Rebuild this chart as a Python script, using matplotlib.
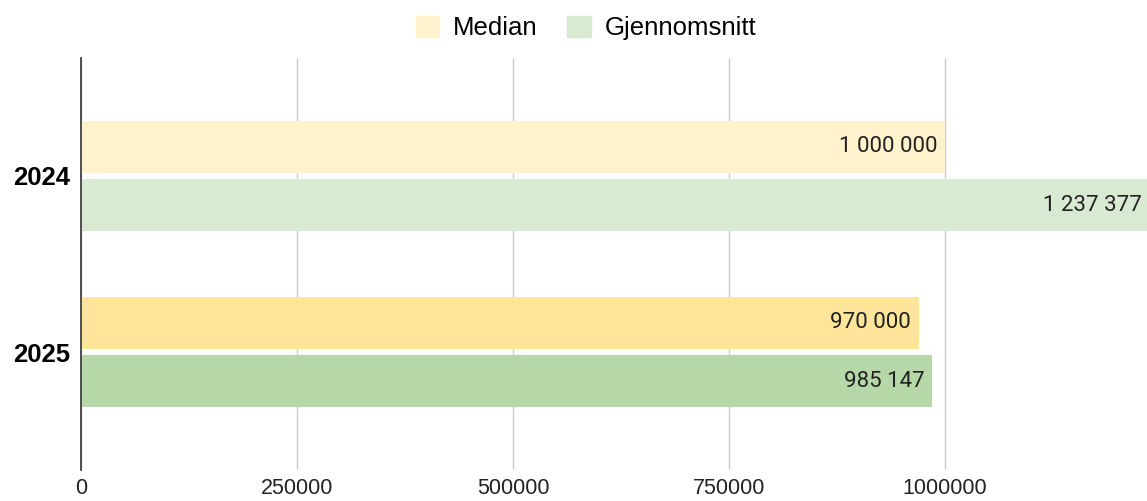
import matplotlib.pyplot as plt
from matplotlib.patches import Patch
import numpy as np

plt.rcParams['font.family'] = ['Roboto', 'DejaVu Sans']

years = ['2024', '2025']
series = ['Median', 'Gjennomsnitt']
median = [1000000, 970000]
snitt = [1237377, 985147]
xticks = [0, 250000, 500000, 750000, 1000000]

# lighter shade for 2024, stronger for 2025
median_colors = ['#FFF2CC', '#FFE599']
snitt_colors = ['#D9EAD3', '#B6D7A8']


def fmt(v):
    return f"{v:,}".replace(',', ' ')


fig = plt.figure(figsize=(11.47, 5.01), dpi=100)
ax = fig.add_axes([81 / 1147, 31 / 501, 1069 / 1147, 412 / 501])

y = np.arange(len(years))
h = 0.30
off = 0.165
bars_m = ax.barh(y - off, median, height=h, color=median_colors, zorder=3)
bars_s = ax.barh(y + off, snitt, height=h, color=snitt_colors, zorder=3)

for bars, vals in [(bars_m, median), (bars_s, snitt)]:
    for b, v in zip(bars, vals):
        ax.text(v - 9000, b.get_y() + b.get_height() / 2, fmt(v),
                ha='right', va='center', fontsize=16, color='#222222', zorder=4)

ax.set_ylim(len(years) - 1 + 0.67, -0.67)
ax.set_xlim(0, max(snitt))
ax.set_yticks(y)
ax.set_yticklabels(years, fontsize=18.5, fontweight='bold',
                   family=['Liberation Sans', 'DejaVu Sans'])
ax.set_xticks(xticks)
ax.set_xticklabels([str(t) for t in xticks], fontsize=15.5, color='#222222',
                   family=['Liberation Sans', 'DejaVu Sans'])
ax.tick_params(axis='both', length=0)
ax.tick_params(axis='y', pad=8)
ax.tick_params(axis='x', pad=6)

ax.grid(axis='x', color='#CCCCCC', linewidth=1, zorder=0)
for s in ['top', 'right', 'bottom']:
    ax.spines[s].set_visible(False)
ax.spines['left'].set_color('#333333')
ax.spines['left'].set_linewidth(1.2)
ax.spines['left'].set_zorder(5)

handles = [Patch(color=median_colors[0], label=series[0]),
           Patch(color=snitt_colors[0], label=series[1])]
fig.legend(handles=handles, loc='center', bbox_to_anchor=(0.511, 1 - 28 / 501),
           ncol=2, frameon=False, prop={'family': ['Liberation Sans', 'DejaVu Sans'], 'size': 18.5},
           handlelength=0.9, handleheight=0.9, columnspacing=1.15, handletextpad=0.55)

fig.savefig('out.png', dpi=100)
